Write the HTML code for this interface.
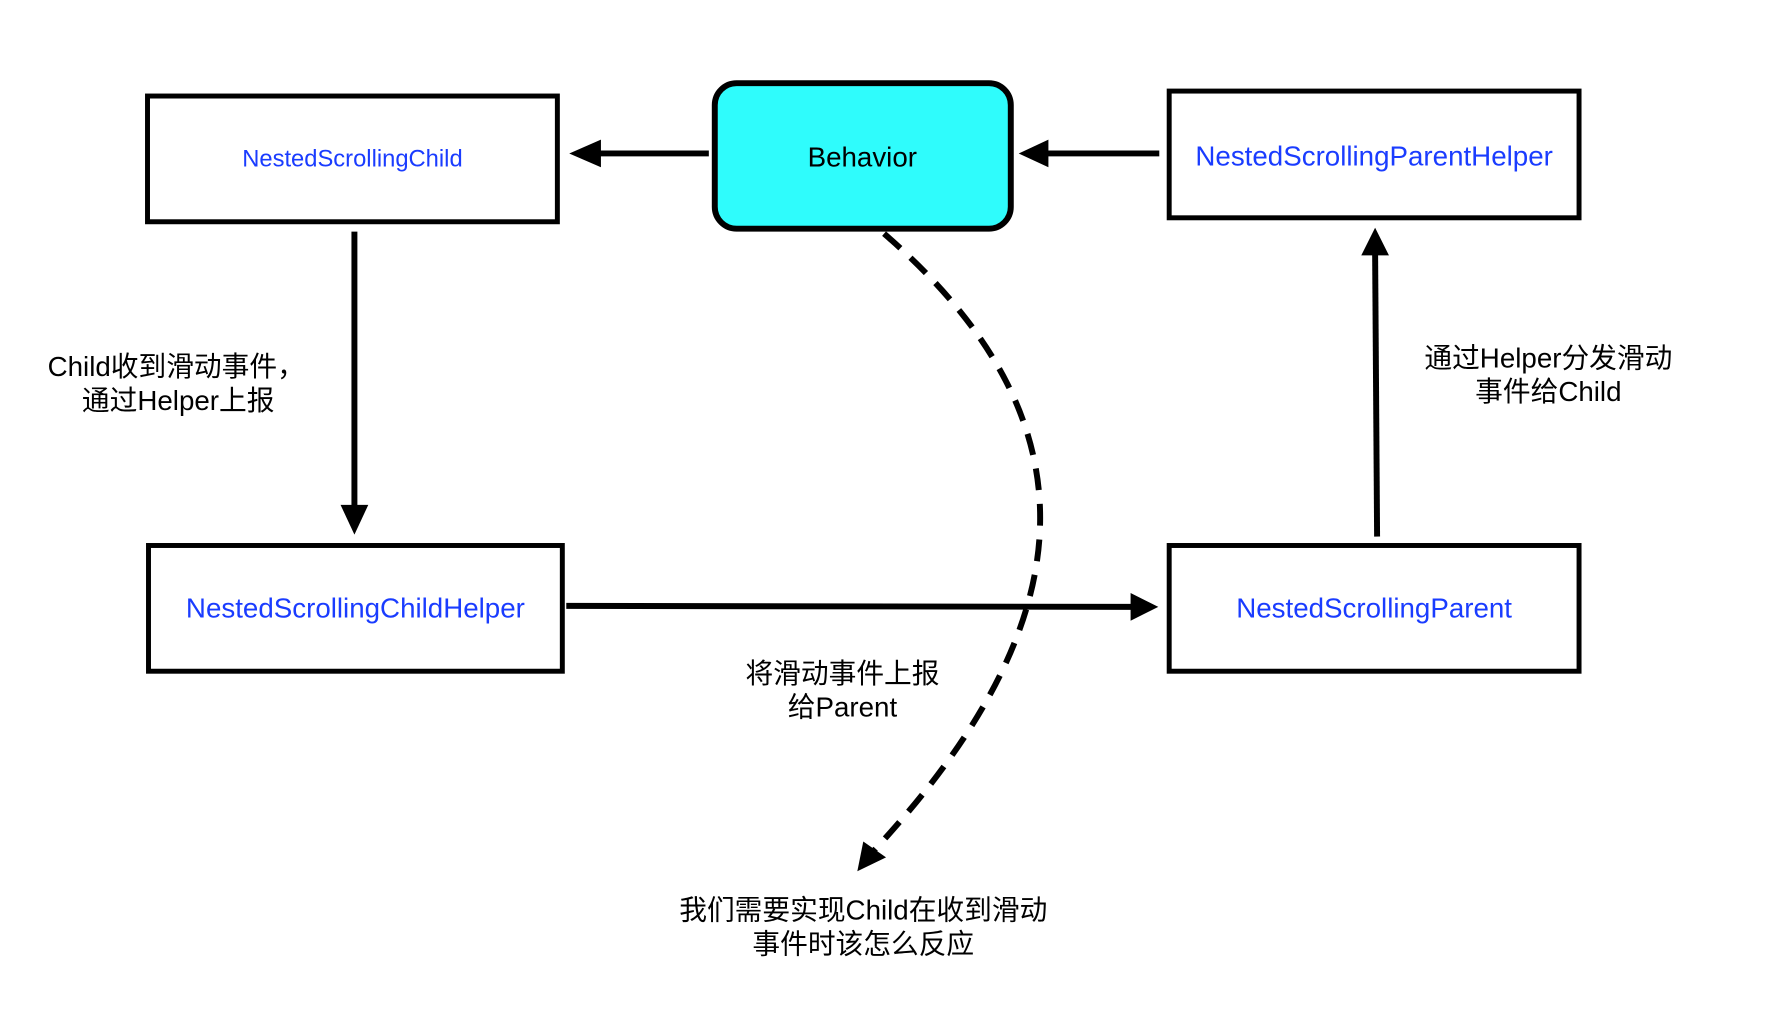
<!DOCTYPE html>
<html><head><meta charset="utf-8"><style>
html,body{margin:0;padding:0;background:#fff;}
svg text{font-family:"Liberation Sans","Noto Sans CJK SC",sans-serif;}
</style></head><body>
<svg width="1770" height="1024" viewBox="0 0 1770 1024" xmlns="http://www.w3.org/2000/svg">
<rect width="1770" height="1024" fill="#fff"/>
<g transform="scale(0.99)">
<g fill="none" stroke="#000" stroke-width="5">
<rect x="149" y="97" width="414" height="127"/>
<rect x="1181" y="92" width="414" height="128"/>
<rect x="150" y="551" width="418" height="127"/>
<rect x="1181" y="551" width="414" height="127"/>
<rect x="722" y="84" width="299" height="147" rx="22" fill="#2ffcfc" stroke-width="6"/>
</g>
<g stroke="#000" stroke-width="6" fill="none">
<line x1="716" y1="155" x2="605" y2="155"/>
<line x1="1171" y1="155" x2="1055" y2="155"/>
<line x1="358" y1="234" x2="358" y2="512"/>
<line x1="572" y1="612" x2="1145" y2="613"/>
<line x1="1391" y1="542" x2="1389" y2="255"/>
<path d="M893,236 C1105,420 1105,620 882,860" stroke-dasharray="22,14"/>
</g>
<g fill="#000">
<polygon points="575,155 607,141 607,169"/>
<polygon points="1029,155 1059,141 1059,169"/>
<polygon points="358,540 344,510 372,510"/>
<polygon points="1170,613 1142,599 1142,627"/>
<polygon points="1389,230 1375,258 1403,258"/>
<polygon points="866,880 872,850 895,866"/>
</g>
<g font-size="28" text-anchor="middle">
<text x="356" y="168" fill="#1a3cff" font-size="24">NestedScrollingChild</text>
<text x="871" y="168" fill="#000">Behavior</text>
<text x="1388" y="167" fill="#1a3cff">NestedScrollingParentHelper</text>
<text x="359" y="624" fill="#1a3cff">NestedScrollingChildHelper</text>
<text x="1388" y="624" fill="#1a3cff">NestedScrollingParent</text>
</g>
<g font-size="28" text-anchor="middle" fill="#000">
<text x="178" y="380">Child收到滑动事件，</text>
<text x="180" y="414">通过Helper上报</text>
<text x="1564" y="371">通过Helper分发滑动</text>
<text x="1564" y="405">事件给Child</text>
<text x="851" y="690">将滑动事件上报</text>
<text x="851" y="724">给Parent</text>
<text x="872" y="929">我们需要实现Child在收到滑动</text>
<text x="872" y="963">事件时该怎么反应</text>
</g>
</g>
</svg>
</body></html>
